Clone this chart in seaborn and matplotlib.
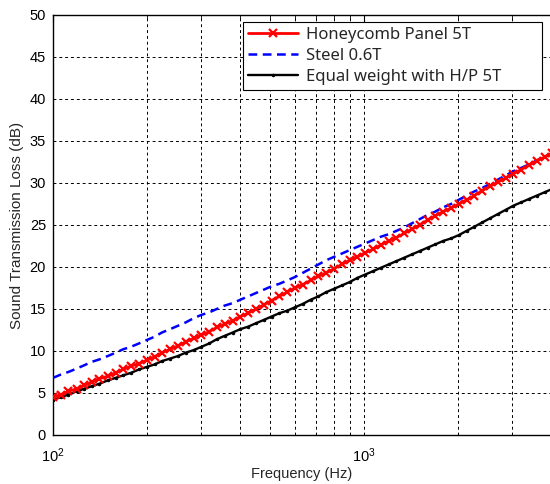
import seaborn as sns
import matplotlib.pyplot as plt
import matplotlib.ticker as mticker
import pandas as pd

# 1/12-octave frequency points (Hz)
freq = [100, 106, 112, 119, 126, 133, 141, 150, 159, 168, 178, 189,
        200, 212, 224, 238, 252, 267, 283, 300, 318, 336, 356, 378,
        400, 424, 449, 476, 504, 534, 566, 599, 635, 673, 713, 755,
        800, 848, 898, 951, 1008, 1068, 1131, 1199, 1270, 1345, 1425, 1510,
        1600, 1695, 1796, 1903, 2016, 2136, 2263, 2397, 2540, 2691, 2851, 3020,
        3200, 3390, 3592, 3805, 4032]

honeycomb = [4.5, 4.8, 5.2, 5.5, 5.9, 6.3, 6.7, 7.0, 7.4, 7.8, 8.2, 8.5,
             8.9, 9.3, 9.8, 10.2, 10.6, 11.1, 11.5, 11.9, 12.3, 12.8, 13.2, 13.6,
             14.1, 14.5, 15.0, 15.5, 16.0, 16.5, 17.0, 17.5, 17.9, 18.4, 18.9, 19.3,
             19.8, 20.3, 20.8, 21.2, 21.7, 22.1, 22.6, 23.1, 23.5, 24.0, 24.5, 25.0,
             25.6, 26.1, 26.6, 27.0, 27.5, 28.0, 28.5, 29.1, 29.6, 30.1, 30.6, 31.1,
             31.6, 32.1, 32.6, 33.1, 33.6]

steel = [6.8, 7.2, 7.5, 7.9, 8.3, 8.7, 9.0, 9.4, 9.8, 10.2, 10.5, 10.9,
         11.3, 11.7, 12.2, 12.6, 13.0, 13.4, 13.9, 14.3, 14.6, 15.0, 15.4, 15.7,
         16.1, 16.5, 16.9, 17.3, 17.7, 18.0, 18.4, 18.8, 19.3, 19.8, 20.3, 20.8,
         21.2, 21.6, 22.0, 22.4, 22.8, 23.2, 23.6, 23.9, 24.3, 24.7, 25.2, 25.7,
         26.2, 26.6, 27.1, 27.5, 28.0, 28.5, 29.0, 29.4, 29.9, 30.4, 30.9, 31.4,
         31.8, 32.2, 32.7, 33.1, 33.5]

equal_weight = [4.2, 4.5, 4.8, 5.2, 5.5, 5.8, 6.1, 6.5, 6.8, 7.1, 7.4, 7.8,
                8.1, 8.4, 8.8, 9.1, 9.4, 9.8, 10.1, 10.5, 10.9, 11.4, 11.8, 12.2,
                12.6, 12.9, 13.3, 13.7, 14.1, 14.5, 14.8, 15.2, 15.6, 16.1, 16.5, 17.0,
                17.4, 17.8, 18.2, 18.7, 19.1, 19.5, 19.9, 20.3, 20.7, 21.1, 21.5, 21.9,
                22.3, 22.7, 23.1, 23.4, 23.8, 24.3, 24.8, 25.3, 25.8, 26.3, 26.8, 27.3,
                27.7, 28.1, 28.5, 28.9, 29.3]

labels = ["Honeycomb Panel 5T", "Steel 0.6T", "Equal weight with H/P 5T"]

df = pd.DataFrame({"freq": freq, "honeycomb": honeycomb,
                   "steel": steel, "equal": equal_weight})

sns.set_style("white")
plt.rcParams['font.family'] = ['Liberation Sans', 'DejaVu Sans']
plt.rcParams['mathtext.fontset'] = 'custom'
plt.rcParams['mathtext.rm'] = 'Liberation Sans'
plt.rcParams['mathtext.it'] = 'Liberation Sans'

fig = plt.figure(figsize=(5.5, 4.84), dpi=100)
ax = fig.add_axes([53 / 550, 49 / 484, 497 / 550, 420 / 484])

sns.lineplot(data=df, x="freq", y="honeycomb", ax=ax, color="#ff0000",
             linewidth=2, marker="x", markersize=6, markeredgewidth=1.6,
             markeredgecolor="#ff0000", label=labels[0], zorder=4)
sns.lineplot(data=df, x="freq", y="steel", ax=ax, color="#0000ff",
             linewidth=1.8, label=labels[1], zorder=3)
ax.lines[-1].set_dashes((3.5, 2.2))
sns.lineplot(data=df, x="freq", y="equal", ax=ax, color="black",
             linewidth=1.7, marker=".", markersize=3.5,
             markeredgecolor="black", label=labels[2], zorder=3)

ax.set_xscale("log")
ax.set_xlim(100, 3960)
ax.set_ylim(0, 50)
ax.set_yticks(range(0, 51, 5))
ax.xaxis.set_major_locator(mticker.LogLocator(base=10))
ax.xaxis.set_minor_locator(mticker.LogLocator(base=10, subs=range(2, 10)))
ax.xaxis.set_minor_formatter(mticker.NullFormatter())

grid_kw = dict(color="black", linestyle=(0, (3, 3)), linewidth=0.7)
ax.grid(True, which="major", axis="both", **grid_kw)
ax.grid(True, which="minor", axis="x", **grid_kw)

ax.tick_params(axis="both", which="both", direction="in", top=True,
               right=False, labelsize=10.5, colors="black")
ax.tick_params(which="major", length=5)
ax.tick_params(which="minor", length=3)
ax.tick_params(axis="x", which="major", pad=8)
ax.tick_params(axis="y", which="major", pad=5)
ax.spines["right"].set_visible(False)
for s in ["left", "bottom", "top"]:
    ax.spines[s].set_color("black")
    ax.spines[s].set_linewidth(1.0)

ax.set_xlabel("Frequency (Hz)", fontsize=10.5, labelpad=2)
ax.set_ylabel("Sound Transmission Loss (dB)", fontsize=11, labelpad=4)

leg = ax.legend(loc="upper left",
                bbox_to_anchor=(243 / 550, 1 - 22 / 484, 299 / 550, 0),
                bbox_transform=fig.transFigure, mode="expand", frameon=True,
                fancybox=False, edgecolor="black", framealpha=1,
                borderpad=0.3, handlelength=3.0, handletextpad=0.5,
                labelspacing=0.3, borderaxespad=0,
                prop={"family": "Noto Sans", "size": 12})
leg.get_frame().set_linewidth(0.8)

fig.savefig("out.png", dpi=100)
plt.close(fig)
